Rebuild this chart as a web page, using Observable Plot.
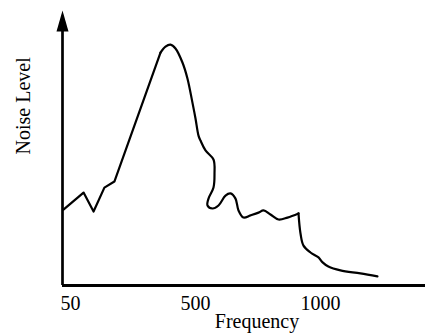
<!DOCTYPE html>
<html><head><meta charset="utf-8">
<script src="https://cdn.jsdelivr.net/npm/d3@7"></script>
<script src="https://cdn.jsdelivr.net/npm/@observablehq/plot@0.6"></script>
<style>html,body{margin:0;padding:0;background:#fff}</style>
</head><body><div id="chart"></div>
<script>
// Curve values
const frequency = [6, 97, 133, 172, 208, 374, 392, 410, 428, 453, 471, 489, 500, 512, 520, 540, 572, 576, 572, 552, 548, 568, 592, 620, 640, 660, 672, 692, 720, 752, 772, 800, 832, 868, 912, 920, 932, 960, 992, 1008, 1030, 1076, 1152, 1217];
const noiseLevel = [27.6, 33.8, 26.9, 35.6, 37.8, 84.7, 86.9, 87.6, 86.2, 81.1, 75.3, 66.5, 60.7, 54.5, 52.7, 49.1, 45.8, 40.7, 35.6, 31.6, 29.1, 28.0, 29.1, 32.7, 33.5, 31.6, 27.3, 24.7, 25.5, 26.5, 27.3, 25.8, 24.0, 24.7, 26.2, 18.9, 14.5, 12.0, 10.2, 8.4, 6.9, 5.5, 4.4, 3.3];
// indices where the drawn curve has sharp corners between smooth pieces
const cornerIndex = [5, 34];
const tickValues = [50, 500, 1000];
const xLabel = "Frequency";
const yLabel = "Noise Level";

const data = frequency.map((f, i) => ({f, n: noiseLevel[i]}));
const partA = data.slice(0, cornerIndex[0] + 1);
const partB = data.slice(cornerIndex[0], cornerIndex[1] + 1);
const partC = data.slice(cornerIndex[1]);
const arrowHead = {draw(ctx) { ctx.moveTo(0, 0); ctx.lineTo(6, 21); ctx.lineTo(-6, 21); ctx.closePath(); }};
const font = "'Liberation Serif', 'Times New Roman', serif";
const lineStyle = {x: "f", y: "n", stroke: "black", strokeWidth: 2.2, strokeLinejoin: "round", strokeLinecap: "round"};

const chart = Plot.plot({
  width: 425, height: 333,
  marginLeft: 62, marginRight: 0, marginTop: 10, marginBottom: 48,
  style: {fontFamily: font, fontSize: "20px", color: "black", background: "white"},
  x: {type: "linear", domain: [0, 50, 500, 1000, 1400], range: [62, 70, 195, 320, 425]},
  y: {domain: [0, 100], axis: null},
  marks: [
    Plot.ruleY([0], {x1: 0, x2: 1400, stroke: "black", strokeWidth: 3}),
    Plot.ruleX([0], {y1: 0, y2: 95, stroke: "black", strokeWidth: 2.7}),
    Plot.dot([{x: 0, y: 100}], {x: "x", y: "y", symbol: arrowHead, fill: "black", stroke: "none", r: 5}),
    Plot.line(partA, {...lineStyle, curve: "linear"}),
    Plot.line(partB, {...lineStyle, curve: "catmull-rom"}),
    Plot.line(partC, {...lineStyle, curve: "catmull-rom"}),
    Plot.axisX(tickValues, {tickSize: 0, tickPadding: 10, tickFormat: d => String(d), fontSize: 20, label: null, fontVariant: "normal"}),
    Plot.text([xLabel], {frameAnchor: "bottom", lineAnchor: "top", dx: 13, dy: 28, fontSize: 20, fill: "black"}),
    Plot.text([yLabel], {frameAnchor: "left", rotate: -90, dx: -38.5, dy: 6.5, fontSize: 20, fill: "black"})
  ]
});
document.getElementById("chart").append(chart);
</script>
</body></html>
